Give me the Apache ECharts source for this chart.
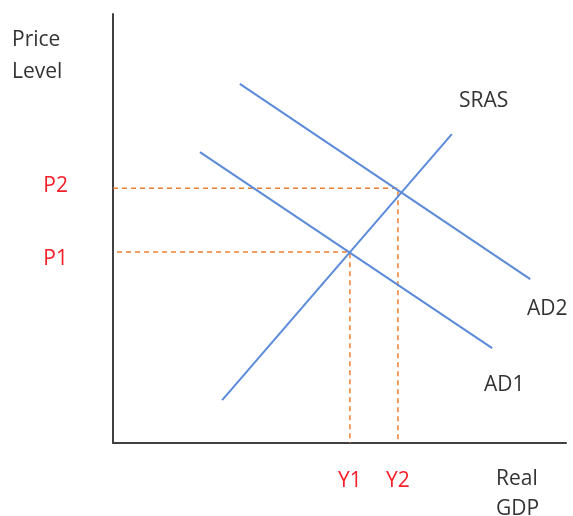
<!DOCTYPE html>
<html>
<head>
<meta charset="utf-8">
<script src="https://cdn.jsdelivr.net/npm/echarts@6/dist/echarts.min.js"></script>
<style>html,body{margin:0;padding:0;background:#fff}#c{width:573px;height:516px}</style>
</head>
<body>
<div id="c"></div>
<script>
// Data (arbitrary units on 0..10 axes)
var srasLine = [[2.41, 1.00], [7.48, 7.20]];
var ad1Line = [[1.92, 6.78], [8.37, 2.21]];
var ad2Line = [[2.80, 8.37], [9.21, 3.82]];
var priceLevels = [4.45, 5.94];      // P1, P2
var priceLabels = ['P1', 'P2'];
var outputLevels = [5.23, 6.29];     // Y1, Y2
var outputLabels = ['Y1', 'Y2'];

var FONT = '"Open Sans", sans-serif';
var blue = '#5b8bd9';
var orange = '#ed7d31';
var red = '#f51f2a';
var textGray = '#333333';
var FS = 21;

function labelFor(vals, labels, richKeys) {
  return function (v) {
    for (var i = 0; i < vals.length; i++) {
      if (Math.abs(vals[i] - v) < 1e-6) return richKeys ? '{' + richKeys[i] + '|' + labels[i] + '}' : labels[i];
    }
    return '';
  };
}

var dashStyle = { color: orange, width: 1.5, type: [5, 4] };
var dashed = [
  [[0.09, priceLevels[0]], [outputLevels[0], priceLevels[0]], [outputLevels[0], 0]],
  [[0, priceLevels[1]], [outputLevels[1], priceLevels[1]], [outputLevels[1], 0]]
];

var chart = echarts.init(document.getElementById('c'), null, { renderer: 'canvas' });
chart.setOption({
  backgroundColor: '#fff',
  animation: false,
  grid: { left: 113, top: 14, right: 7, bottom: 73 },
  xAxis: {
    type: 'value', min: 0, max: 10,
    splitLine: { show: false },
    axisLine: { show: true, lineStyle: { color: '#404040', width: 2 } },
    axisTick: { show: false },
    axisLabel: {
      customValues: outputLevels,
      formatter: labelFor(outputLevels, outputLabels),
      color: red, fontFamily: FONT, fontSize: FS, margin: 28
    }
  },
  yAxis: {
    type: 'value', min: 0, max: 10,
    splitLine: { show: false },
    axisLine: { show: true, lineStyle: { color: '#404040', width: 2 } },
    axisTick: { show: false },
    axisLabel: {
      customValues: priceLevels,
      formatter: labelFor(priceLevels, priceLabels, ['p1', 'p2']),
      color: red, fontFamily: FONT, fontSize: FS, margin: 45,
      rich: {
        p1: { color: red, fontFamily: FONT, fontSize: FS, padding: [14, 0, 0, 0] },
        p2: { color: red, fontFamily: FONT, fontSize: FS, padding: [0, 0, 4, 0] }
      }
    }
  },
  series: [
    { type: 'line', data: dashed[0], symbol: 'none', lineStyle: dashStyle, z: 1 },
    { type: 'line', data: dashed[1], symbol: 'none', lineStyle: dashStyle, z: 1 },
    { type: 'line', data: srasLine, symbol: 'none', lineStyle: { color: blue, width: 2 }, z: 2 },
    { type: 'line', data: ad1Line, symbol: 'none', lineStyle: { color: blue, width: 2 }, z: 2 },
    { type: 'line', data: ad2Line, symbol: 'none', lineStyle: { color: blue, width: 2 }, z: 2 }
  ],
  graphic: [
    { type: 'text', left: 12, top: 24, style: { text: 'Price\nLevel', fill: textGray, font: FS + 'px ' + FONT, lineHeight: 32 } },
    { type: 'text', left: 496, top: 464, style: { text: 'Real\nGDP', fill: textGray, font: FS + 'px ' + FONT, lineHeight: 30 } },
    { type: 'text', left: 459, top: 91, style: { text: 'SRAS', fill: textGray, font: FS + 'px ' + FONT } },
    { type: 'text', left: 527, top: 299, style: { text: 'AD2', fill: textGray, font: FS + 'px ' + FONT } },
    { type: 'text', left: 484, top: 375, style: { text: 'AD1', fill: textGray, font: FS + 'px ' + FONT } }
  ]
});
</script>
</body>
</html>
